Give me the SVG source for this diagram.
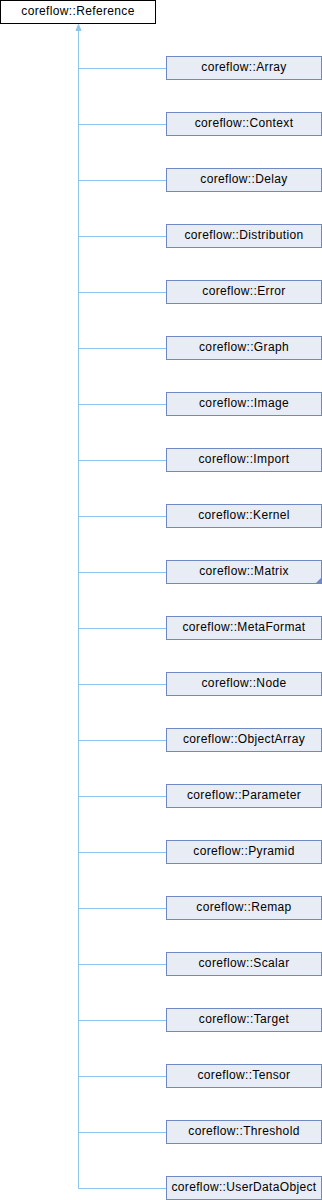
<svg xmlns="http://www.w3.org/2000/svg" width="322" height="1200" viewBox="0 0 322 1200">
<style>
.n rect{fill:#E8ECF5;stroke:#7088C4;stroke-width:1}
.root rect{fill:#ffffff;stroke:#000000;stroke-width:1}
text{font-family:"Liberation Sans",Arial,sans-serif;font-size:12px;letter-spacing:0.35px;text-anchor:middle;fill:#000}
.e{stroke:#8DC6EC;stroke-width:1;fill:none}
</style>
<rect width="322" height="1200" fill="#ffffff"/>
<g id="connectors">
<path class="e" d="M78.5,30 V1188.5"/>
<polygon points="78.5,24.5 76,30.5 81,30.5" fill="#8DC6EC" stroke="#8DC6EC"/>
<path class="e" d="M78.5,68.5 H166.5 M78.5,124.5 H166.5 M78.5,180.5 H166.5 M78.5,236.5 H166.5 M78.5,292.5 H166.5 M78.5,348.5 H166.5 M78.5,404.5 H166.5 M78.5,460.5 H166.5 M78.5,516.5 H166.5 M78.5,572.5 H166.5 M78.5,628.5 H166.5 M78.5,684.5 H166.5 M78.5,740.5 H166.5 M78.5,796.5 H166.5 M78.5,852.5 H166.5 M78.5,908.5 H166.5 M78.5,964.5 H166.5 M78.5,1020.5 H166.5 M78.5,1076.5 H166.5 M78.5,1132.5 H166.5 M78.5,1188.5 H166.5"/>
</g>
<g id="Reference" class="root"><rect x="0.5" y="0.5" width="155" height="23"/><text x="78" y="15.3">coreflow::Reference</text></g>
<g id="Array" class="n"><rect x="166.5" y="56.5" width="155" height="23"/><text x="244" y="71">coreflow::Array</text></g>
<g id="Context" class="n"><rect x="166.5" y="112.5" width="155" height="23"/><text x="244" y="127">coreflow::Context</text></g>
<g id="Delay" class="n"><rect x="166.5" y="168.5" width="155" height="23"/><text x="244" y="183">coreflow::Delay</text></g>
<g id="Distribution" class="n"><rect x="166.5" y="224.5" width="155" height="23"/><text x="244" y="239">coreflow::Distribution</text></g>
<g id="Error" class="n"><rect x="166.5" y="280.5" width="155" height="23"/><text x="244" y="295">coreflow::Error</text></g>
<g id="Graph" class="n"><rect x="166.5" y="336.5" width="155" height="23"/><text x="244" y="351">coreflow::Graph</text></g>
<g id="Image" class="n"><rect x="166.5" y="392.5" width="155" height="23"/><text x="244" y="407">coreflow::Image</text></g>
<g id="Import" class="n"><rect x="166.5" y="448.5" width="155" height="23"/><text x="244" y="463">coreflow::Import</text></g>
<g id="Kernel" class="n"><rect x="166.5" y="504.5" width="155" height="23"/><text x="244" y="519">coreflow::Kernel</text></g>
<g id="Matrix" class="n"><rect x="166.5" y="560.5" width="155" height="23"/><text x="244" y="575">coreflow::Matrix</text><polygon points="321,578 321,583 316,583" fill="#7088C4"/></g>
<g id="MetaFormat" class="n"><rect x="166.5" y="616.5" width="155" height="23"/><text x="244" y="631">coreflow::MetaFormat</text></g>
<g id="Node" class="n"><rect x="166.5" y="672.5" width="155" height="23"/><text x="244" y="687">coreflow::Node</text></g>
<g id="ObjectArray" class="n"><rect x="166.5" y="728.5" width="155" height="23"/><text x="244" y="743">coreflow::ObjectArray</text></g>
<g id="Parameter" class="n"><rect x="166.5" y="784.5" width="155" height="23"/><text x="244" y="799">coreflow::Parameter</text></g>
<g id="Pyramid" class="n"><rect x="166.5" y="840.5" width="155" height="23"/><text x="244" y="855">coreflow::Pyramid</text></g>
<g id="Remap" class="n"><rect x="166.5" y="896.5" width="155" height="23"/><text x="244" y="911">coreflow::Remap</text></g>
<g id="Scalar" class="n"><rect x="166.5" y="952.5" width="155" height="23"/><text x="244" y="967">coreflow::Scalar</text></g>
<g id="Target" class="n"><rect x="166.5" y="1008.5" width="155" height="23"/><text x="244" y="1023">coreflow::Target</text></g>
<g id="Tensor" class="n"><rect x="166.5" y="1064.5" width="155" height="23"/><text x="244" y="1079">coreflow::Tensor</text></g>
<g id="Threshold" class="n"><rect x="166.5" y="1120.5" width="155" height="23"/><text x="244" y="1135">coreflow::Threshold</text></g>
<g id="UserDataObject" class="n"><rect x="166.5" y="1176.5" width="155" height="23"/><text x="244" y="1191">coreflow::UserDataObject</text></g>
</svg>
